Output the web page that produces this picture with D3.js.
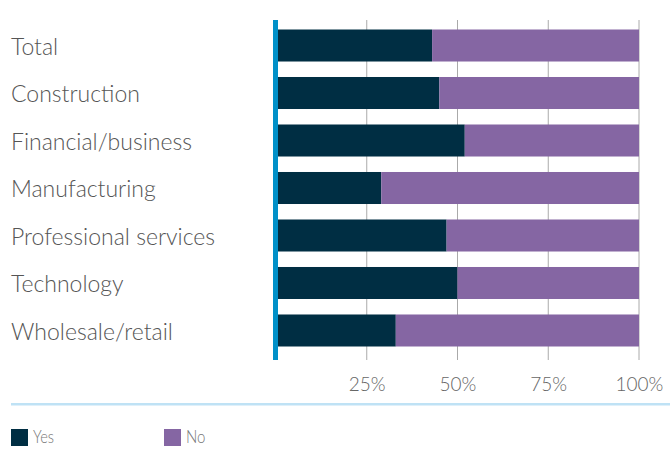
<!DOCTYPE html>
<html>
<head>
<meta charset="utf-8">
<script src="https://cdn.jsdelivr.net/npm/d3@7"></script>
<style>
  html, body { margin: 0; padding: 0; background: #fff; }
  svg { display: block; }
  text { font-family: Lato, "Open Sans", sans-serif; font-weight: 300; }
</style>
</head>
<body>
<svg id="chart" width="670" height="460"></svg>
<script>
// Share of respondents answering Yes / No, by sector
const categories = ["Total", "Construction", "Financial/business", "Manufacturing",
                    "Professional services", "Technology", "Wholesale/retail"];
const yesValues = [43, 45, 52, 29, 47, 50, 33];
const noValues  = [57, 55, 48, 71, 53, 50, 67];
const tickValues = [25, 50, 75, 100];
const seriesNames = ["Yes", "No"];
const seriesColors = ["#002e43", "#8566a3"];

const svg = d3.select("#chart");

const x = d3.scaleLinear().domain([0, 100]).range([276, 639]);
const y = d3.scaleBand().domain(categories).range([20, 356])
  .paddingInner(0.326).paddingOuter(0.2);

// vertical gridlines
svg.append("g").selectAll("line").data(tickValues).join("line")
  .attr("x1", d => x(d)).attr("x2", d => x(d))
  .attr("y1", 20).attr("y2", 360)
  .attr("stroke", "#aaaaaa").attr("stroke-width", 1);

// stacked bars
const rows = categories.map((c, i) => ({ cat: c, yes: yesValues[i], no: noValues[i] }));
const stack = d3.stack().keys(["yes", "no"])(rows);
svg.append("g").selectAll("g").data(stack).join("g")
  .attr("fill", (d, i) => seriesColors[i])
  .selectAll("rect").data(d => d).join("rect")
  .attr("x", d => x(d[0]))
  .attr("width", d => x(d[1]) - x(d[0]))
  .attr("y", d => y(d.data.cat))
  .attr("height", y.bandwidth());

// category axis line
svg.append("rect").attr("x", 273).attr("y", 20).attr("width", 5).attr("height", 340)
  .attr("fill", "#0090c8");

// category labels
svg.append("g").selectAll("text").data(categories).join("text")
  .attr("x", 11).attr("y", d => y(d) + y.bandwidth() / 2)
  .attr("dy", "0.4em")
  .attr("font-size", 23).attr("fill", "#555555")
  .text(d => d);

// percentage tick labels
const xAxis = d3.axisBottom(x).tickValues(tickValues).tickSize(0).tickPadding(0)
  .tickFormat(d => d + "%");
const ax = svg.append("g").attr("transform", "translate(0,391)").call(xAxis);
ax.select(".domain").remove();
ax.selectAll("text").attr("y", 0).attr("dy", 0)
  .attr("font-size", 19).attr("fill", "#666666")
  .style("font-family", "Lato, 'Open Sans', sans-serif").style("font-weight", 300);

// divider above legend
svg.append("rect").attr("x", 11).attr("y", 403).attr("width", 659).attr("height", 2.5)
  .attr("fill", "#bfe2f5");

// legend
const legendX = [11, 164];
const legendTextWidth = [21, 19.5];
const lg = svg.append("g").selectAll("g").data(seriesNames).join("g")
  .attr("transform", (d, i) => `translate(${legendX[i]},429)`);
lg.append("rect").attr("width", 17).attr("height", 17).attr("fill", (d, i) => seriesColors[i]);
lg.append("text").attr("x", 22).attr("y", 14.3)
  .attr("font-size", 17).attr("fill", "#777777")
  .attr("textLength", (d, i) => legendTextWidth[i])
  .attr("lengthAdjust", "spacingAndGlyphs")
  .text(d => d);
</script>
</body>
</html>
